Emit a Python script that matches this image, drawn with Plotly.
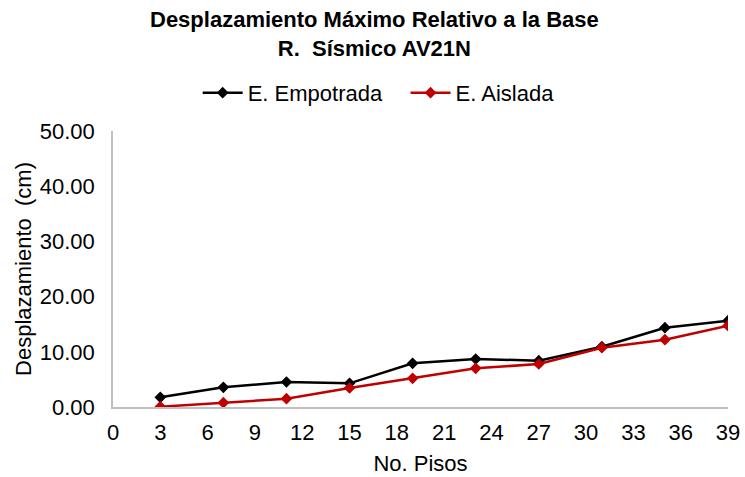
import plotly.graph_objects as go

pisos = [3, 7, 11, 15, 19, 23, 27, 31, 35, 39]
empotrada = [1.76, 3.57, 4.53, 4.29, 7.92, 8.70, 8.39, 10.92, 14.37, 15.63]
aislada = [0.05, 0.78, 1.50, 3.44, 5.20, 7.00, 7.79, 10.74, 12.19, 14.73]
x_ticks = list(range(0, 40, 3))
y_ticks = [0, 10, 20, 30, 40, 50]

FONT = "Liberation Sans, Arial, sans-serif"
FS = 22

fig = go.Figure()
fig.add_trace(go.Scatter(x=pisos, y=empotrada, name="E. Empotrada\u00a0\u00a0\u00a0", mode="lines+markers",
                         line=dict(color="#000000", width=2.5),
                         marker=dict(symbol="diamond", size=9, color="#000000")))
fig.add_trace(go.Scatter(x=pisos, y=aislada, name="E. Aislada", mode="lines+markers",
                         line=dict(color="#C00000", width=2.5),
                         marker=dict(symbol="diamond", size=9, color="#C00000")))

fig.add_annotation(text="<b>Desplazamiento Máximo Relativo a la Base<br>R.\u00a0 Sísmico AV21N</b>",
                   xref="paper", yref="paper", x=0.426, y=1.353, xanchor="center", yanchor="middle",
                   showarrow=False, font=dict(family=FONT, size=FS, color="#000000"))

fig.update_layout(
    width=745, height=477,
    margin=dict(l=113, r=17, t=131, b=70, autoexpand=False),
    paper_bgcolor="white", plot_bgcolor="white",
    font=dict(family=FONT, size=FS, color="#000000"),
    legend=dict(orientation="h", x=0.432, xanchor="center", y=1.138, yanchor="middle",
                font=dict(family=FONT, size=FS), itemwidth=40, traceorder="normal"),
    showlegend=True,
)
fig.update_xaxes(range=[0, 39], tickvals=x_ticks, showgrid=False, zeroline=False,
                 showline=True, linecolor="#BFBFBF", linewidth=1.5, ticks="",
                 automargin=False, ticklabelstandoff=5,
                 title=dict(text="No. Pisos", standoff=11, font=dict(size=FS)),
                 tickfont=dict(size=FS))
fig.update_yaxes(range=[0, 50], tickvals=y_ticks, tickformat=".2f", showgrid=False,
                 zeroline=False, showline=True, linecolor="#BFBFBF", linewidth=1.5, ticks="",
                 ticklabelstandoff=12, automargin=False,
                 title=dict(text="Desplazamiento\u00a0 (cm)", standoff=2, font=dict(size=FS)),
                 tickfont=dict(size=FS))

fig.write_html("out.html", config={"displayModeBar": False},
               post_script="document.body.style.margin='0';")
